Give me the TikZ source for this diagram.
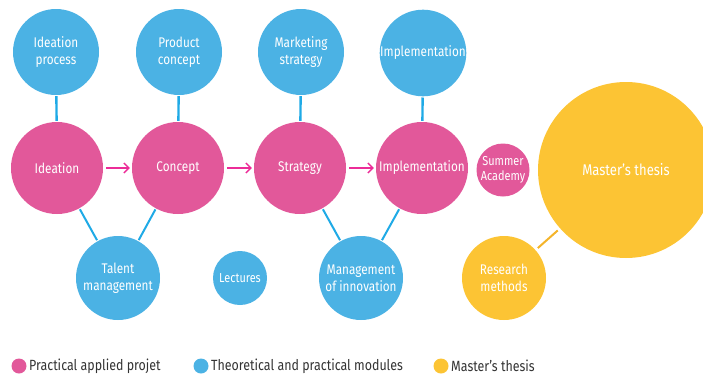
\documentclass[tikz,border=0pt]{standalone}
\usepackage{fontspec}
\setmainfont{Fira Sans}[FakeStretch=0.84]
\usetikzlibrary{arrows.meta}
\definecolor{cpink}{HTML}{E2589A}
\definecolor{cblue}{HTML}{4BB2E4}
\definecolor{cyell}{HTML}{FCC434}
\definecolor{carrow}{HTML}{EC2C98}
\definecolor{cbline}{HTML}{1FAAE6}
\definecolor{cyline}{HTML}{F4B42A}
\begin{document}
\begin{tikzpicture}[x=1pt,y=-1pt,
  bubble/.style={circle,inner sep=0pt,text=white,align=center,font=\fontsize{14}{16.7}\selectfont},
  pinkb/.style={bubble,fill=cpink},
  blueb/.style={bubble,fill=cblue},
  yellb/.style={bubble,fill=cyell},
  smallb/.style={font=\fontsize{13}{15}\selectfont},
  bigb/.style={font=\fontsize{15.5}{18}\selectfont},
  bline/.style={draw=cbline,line width=2.4pt},
  dline/.style={draw=cbline,line width=2pt},
  yline/.style={draw=cyline,line width=2pt},
  flow/.style={draw=carrow,line width=1.4pt,-{Straight Barb[length=5pt,width=10pt]}},
  legdot/.style={circle,inner sep=0pt,minimum size=15pt},
  legtext/.style={anchor=west,inner sep=0pt,font=\fontsize{14.8}{17}\selectfont,text=black!80}
]
\useasboundingbox (0,0) rectangle (703,375);
\clip (0,0) rectangle (703,375);
% top blue modules
\node[blueb,minimum size=86pt] (ip) at (56,52) {Ideation\\process};
\node[blueb,minimum size=86pt] (pc) at (179,52) {Product\\concept};
\node[blueb,minimum size=86pt] (ms) at (301,52) {Marketing\\strategy};
\node[blueb,minimum size=86pt] (ib) at (423,53) {Implementation};
% pink project steps
\node[pinkb,minimum size=92pt] (id) at (57,168) {Ideation};
\node[pinkb,minimum size=92pt] (co) at (178,168) {Concept};
\node[pinkb,minimum size=92pt] (st) at (300,168) {Strategy};
\node[pinkb,minimum size=92pt] (im) at (422,168) {Implementation};
\node[pinkb,smallb,minimum size=53pt] (sa) at (503,170) {Summer\\Academy};
% thesis
\node[yellb,bigb,minimum size=176pt] (mt) at (626,170) {Master's thesis};
% bottom modules
\node[blueb,minimum size=84pt] (tm) at (118,278) {Talent\\management};
\node[blueb,smallb,minimum size=54pt] (le) at (240,278) {Lectures};
\node[blueb,minimum size=84pt] (mi) at (361,278) {Management\\of innovation};
\node[yellb,minimum size=84pt] (rm) at (504,278) {Research\\methods};
% connectors
\draw[bline,shorten >=1pt,shorten <=1pt] (ip) -- (id);
\draw[bline,shorten >=1pt,shorten <=1pt] (pc) -- (co);
\draw[bline,shorten >=1pt,shorten <=1pt] (ms) -- (st);
\draw[bline,shorten >=1pt,shorten <=1pt] (ib) -- (im);
\draw[dline,shorten >=1pt,shorten <=1pt] (id) -- (tm);
\draw[dline,shorten >=1pt,shorten <=1pt] (co) -- (tm);
\draw[dline,shorten >=1pt,shorten <=1pt] (st) -- (mi);
\draw[dline,shorten >=1pt,shorten <=1pt] (im) -- (mi);
\draw[yline,shorten >=3pt,shorten <=3pt] (rm) -- (mt);
\draw[flow,shorten <=3pt,shorten >=2pt] (id) -- (co);
\draw[flow,shorten <=3pt,shorten >=2pt] (co) -- (st);
\draw[flow,shorten <=3pt,shorten >=2pt] (st) -- (im);
% legend
\node[legdot,fill=cpink] (l1) at (19,366) {};
\node[legtext] (t1) at (29,366) {Practical applied projet};
\node[legdot,fill=cblue] (l2) at (201,366) {};
\node[legtext] (t2) at (211,366) {Theoretical and practical modules};
\node[legdot,fill=cyell] (l3) at (441,366) {};
\node[legtext] (t3) at (451,366) {Master's thesis};
\end{tikzpicture}
\end{document}
